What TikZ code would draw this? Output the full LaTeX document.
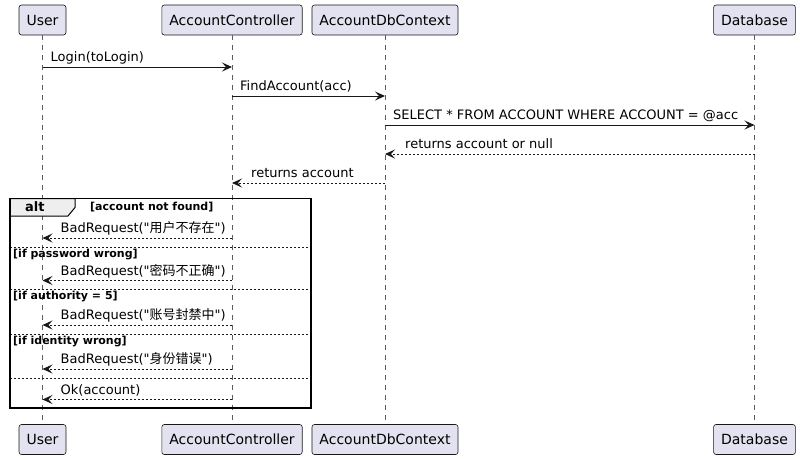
\documentclass[tikz,border=0pt]{standalone}
\usepackage{fontspec}
\setmainfont{DejaVu Sans}[Ligatures=TeXOff]
\newfontfamily\cjk{Noto Sans CJK SC}[Ligatures=TeXOff]
\usetikzlibrary{arrows.meta}
\definecolor{pbox}{HTML}{E2E2F0}
\definecolor{pline}{HTML}{181818}
\definecolor{ptab}{HTML}{EEEEEE}
\tikzset{
  part/.style={draw=pline, fill=pbox, rounded corners=2.5pt, line width=0.6pt,
    minimum height=30pt, inner xsep=7.5pt, inner ysep=0pt,
    font=\fontsize{14}{16}\selectfont, text=black},
  lifeline/.style={draw=pline!70, line width=0.6pt, dash pattern=on 5pt off 5pt},
  msgline/.style={draw=pline, line width=1pt, -{Stealth[length=10pt,width=9pt,inset=4pt]}},
  retline/.style={msgline, dash pattern=on 2pt off 2pt},
  msgtext/.style={anchor=base west, inner sep=0pt, font=\fontsize{13}{15}\selectfont, text=black},
  guard/.style={anchor=base west, inner sep=0pt, font=\fontsize{11}{13}\selectfont\bfseries, text=black},
  sepline/.style={draw=pline, line width=0.8pt, dash pattern=on 2pt off 2pt},
  frameline/.style={draw=black, line width=1.5pt},
}
\begin{document}
\begin{tikzpicture}[x=1pt,y=-1pt]
\useasboundingbox (0,0) rectangle (800,459);
% participants
\node[part] (u)  at (42.5,20) {User};
\node[part] (c)  at (232,20) {AccountController};
\node[part] (d)  at (385,20) {AccountDbContext};
\node[part] (db) at (754.5,20) {Database};
\node[part] (ub)  at (42.5,439.5) {User};
\node[part] (cb)  at (232,439.5) {AccountController};
\node[part] (dbc) at (385,439.5) {AccountDbContext};
\node[part] (dbb) at (754.5,439.5) {Database};
% lifelines
\draw[lifeline] (u.south) -- (ub.north);
\draw[lifeline] (c.south) -- (cb.north);
\draw[lifeline] (d.south) -- (dbc.north);
\draw[lifeline] (db.south) -- (dbb.north);
% message rows
\coordinate (y1) at (0,67);
\coordinate (y2) at (0,96);
\coordinate (y3) at (0,125);
\coordinate (y4) at (0,154);
\coordinate (y5) at (0,183);
\coordinate (y6) at (0,238);
\coordinate (y7) at (0,280.5);
\coordinate (y8) at (0,325);
\coordinate (y9) at (0,369);
\coordinate (y10) at (0,399.5);
% alt frame (drawn first so that arrows lie above)
\coordinate (fa) at (10,198.5);
\coordinate (fb) at (311,408);
\draw[fill=ptab, draw=black, line width=1pt] (10,198.5) -- (75,198.5) -- (75,207.5) -- (68,216) -- (10,216) -- cycle;
\node[anchor=base west, inner sep=0pt, font=\fontsize{13}{15}\selectfont\bfseries] (altl) at (25,211) {alt};
\node[guard] (g1) at (90,210.5) {[account not found]};
\coordinate (s1) at (0,247);
\coordinate (s2) at (0,289.5);
\coordinate (s3) at (0,334);
\coordinate (s4) at (0,378.5);
\draw[sepline] (fa |- s1) -- (fb |- s1);
\draw[sepline] (fa |- s2) -- (fb |- s2);
\draw[sepline] (fa |- s3) -- (fb |- s3);
\draw[sepline] (fa |- s4) -- (fb |- s4);
\node[guard] (g2) at (13,257) {[if password wrong]};
\node[guard] (g3) at (13,299.5) {[if authority = 5]};
\node[guard] (g4) at (13,344) {[if identity wrong]};
\draw[frameline] (fa) rectangle (fb);
% messages
\draw[msgline] (u |- y1) -- (c |- y1);
\path (u |- y1) ++(8,-5.5) node[msgtext] (t1) {Login(toLogin)};
\draw[msgline] (c |- y2) -- (d |- y2);
\path (c |- y2) ++(8,-5.5) node[msgtext] (t2) {FindAccount(acc)};
\draw[msgline] (d |- y3) -- (db |- y3);
\path (d |- y3) ++(8,-5.5) node[msgtext] (t3) {SELECT * FROM ACCOUNT WHERE ACCOUNT = @acc};
\draw[retline] (db |- y4) -- (d |- y4);
\path (d |- y4) ++(20,-5.5) node[msgtext] (t4) {returns account or null};
\draw[retline] (d |- y5) -- (c |- y5);
\path (c |- y5) ++(19,-5.5) node[msgtext] (t5) {returns account};
\draw[retline] (c |- y6) -- (u |- y6);
\path (u |- y6) ++(18,-5.5) node[msgtext] (t6) {BadRequest("{\cjk 用户不存在}")};
\draw[retline] (c |- y7) -- (u |- y7);
\path (u |- y7) ++(18,-5.5) node[msgtext] (t7) {BadRequest("{\cjk 密码不正确}")};
\draw[retline] (c |- y8) -- (u |- y8);
\path (u |- y8) ++(18,-5.5) node[msgtext] (t8) {BadRequest("{\cjk 账号封禁中}")};
\draw[retline] (c |- y9) -- (u |- y9);
\path (u |- y9) ++(18,-5.5) node[msgtext] (t9) {BadRequest("{\cjk 身份错误}")};
\draw[retline] (c |- y10) -- (u |- y10);
\path (u |- y10) ++(18,-5.5) node[msgtext] (t10) {Ok(account)};
\end{tikzpicture}
\end{document}
